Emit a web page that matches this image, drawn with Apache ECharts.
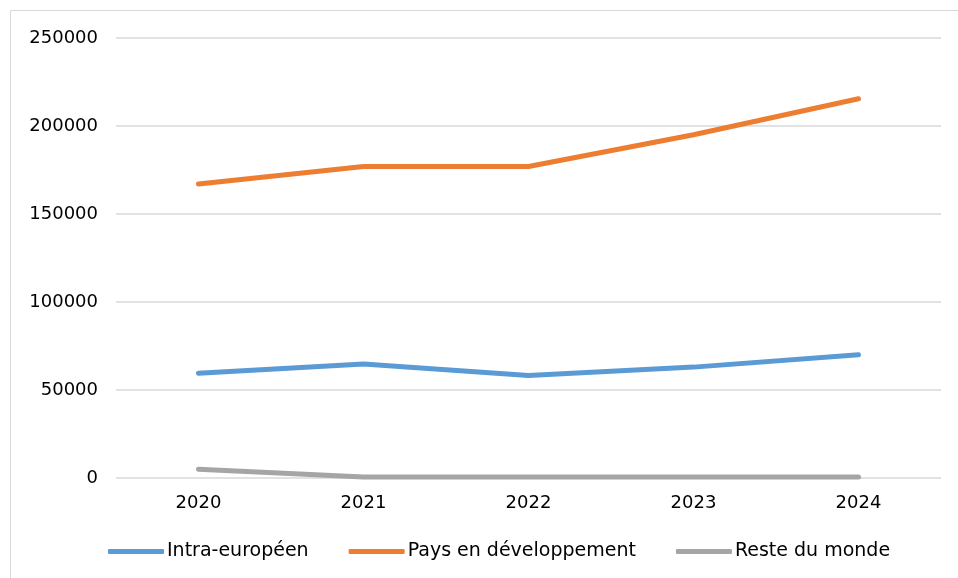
<!DOCTYPE html>
<html>
<head>
<meta charset="utf-8">
<script src="https://cdn.jsdelivr.net/npm/echarts@6/dist/echarts.min.js"></script>
<style>
html,body{margin:0;padding:0;background:#fff;}
#c{width:958px;height:578px;}
</style>
</head>
<body>
<div id="c"></div>
<script>
const years = ['2020', '2021', '2022', '2023', '2024'];
const intraEuropeen = [59500, 64800, 58300, 63000, 70000];
const paysDev = [167000, 177000, 177000, 195000, 215500];
const resteMonde = [5000, 500, 500, 500, 500];
const seriesNames = ['Intra-européen', 'Pays en développement', 'Reste du monde'];
const colors = ['#5b9bd5', '#ed7d31', '#a5a5a5'];

const chart = echarts.init(document.getElementById('c'), null, {renderer: 'canvas'});
const font = 'DejaVu Sans, Verdana, sans-serif';
const mk = (name, data, color) => ({
  name: name, type: 'line', data: data, symbol: 'none',
  lineStyle: {color: color, width: 5, cap: 'round', join: 'round'},
  itemStyle: {color: color}
});
chart.setOption({
  animation: false,
  textStyle: {fontFamily: font},
  graphic: [{
    type: 'polyline', silent: true,
    shape: {points: [[10.5, 600], [10.5, 10.5], [970, 10.5]]},
    style: {stroke: '#d9d9d9', lineWidth: 1, fill: null}
  }],
  grid: {left: 116, right: 17, top: 38, bottom: 100, containLabel: false},
  legend: {
    data: seriesNames, left: 103, top: 537,
    icon: 'roundRect', itemWidth: 56, itemHeight: 5, itemGap: 40,
    textStyle: {fontFamily: font, fontSize: 19, color: '#000', padding: [0,0,0,-2]}
  },
  xAxis: {
    type: 'category', data: years, boundaryGap: true,
    axisLine: {show: false}, axisTick: {show: false},
    axisLabel: {fontFamily: font, fontSize: 18, color: '#000', margin: 16}
  },
  yAxis: {
    type: 'value', min: 0, max: 250000, interval: 50000,
    axisLine: {show: false}, axisTick: {show: false},
    splitLine: {lineStyle: {color: '#d9d9d9', width: 1.5}},
    axisLabel: {fontFamily: font, fontSize: 18, color: '#000', margin: 18,
      formatter: function (v) { return String(v); }}
  },
  series: [
    mk(seriesNames[0], intraEuropeen, colors[0]),
    mk(seriesNames[1], paysDev, colors[1]),
    mk(seriesNames[2], resteMonde, colors[2])
  ]
});
</script>
</body>
</html>
